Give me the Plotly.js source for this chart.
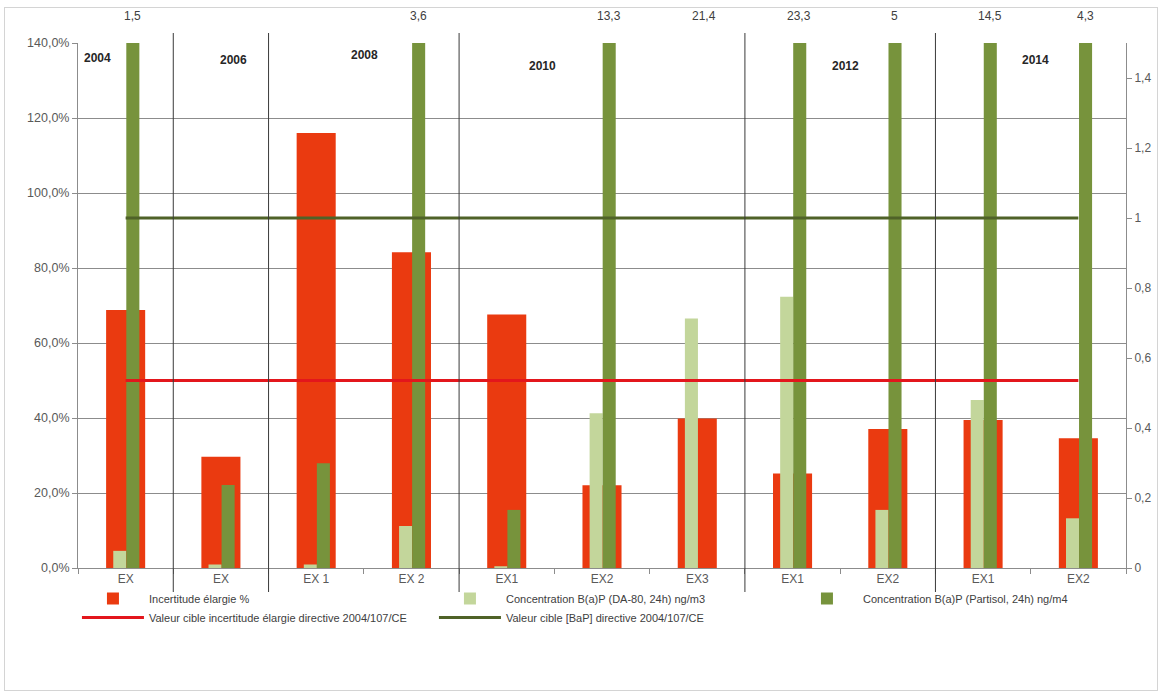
<!DOCTYPE html>
<html>
<head>
<meta charset="utf-8">
<script src="https://cdn.plot.ly/plotly-3.0.1.min.js"></script>
<style>
  html, body { margin: 0; padding: 0; background: #ffffff; }
  #wrap { position: relative; width: 1172px; height: 700px; }
  #chart { position: absolute; left: 0; top: 0; width: 1172px; height: 700px; }
  #frame { position: absolute; left: 4px; top: 7px; width: 1152px; height: 682px;
           border: 1px solid #d4d4d4; pointer-events: none; }
</style>
</head>
<body>
<div id="wrap"><div id="chart"></div><div id="frame"></div></div>
<script>
// ---- data ----
const categories = ['EX', 'EX', 'EX 1', 'EX 2', 'EX1', 'EX2', 'EX3', 'EX1', 'EX2', 'EX1', 'EX2'];
const years = ['2004', '2006', '2008', '2010', '2012', '2014'];
const incertitudeElargie = [0.688, 0.297, 1.16, 0.842, 0.676, 0.221, 0.399, 0.252, 0.371, 0.395, 0.346];
const concDA80 = [0.049, 0.01, 0.01, 0.12, 0.005, 0.442, 0.713, 0.775, 0.166, 0.48, 0.142];
const concPartisol = [1.5, 0.237, 0.299, 3.6, 0.166, 13.3, null, 23.3, 5, 14.5, 4.3];
const partisolLabels = ['1,5', '', '', '3,6', '', '13,3', '21,4', '23,3', '5', '14,5', '4,3'];
const cibleIncertitude = [0.5, 0.5, 0.5, 0.5, 0.5, 0.5, 0.5, 0.5, 0.5, 0.5, 0.5];
const cibleBaP = [1, 1, 1, 1, 1, 1, 1, 1, 1, 1, 1];
const seriesNames = [
  'Incertitude élargie %',
  'Concentration B(a)P (DA-80, 24h) ng/m3',
  'Concentration B(a)P (Partisol, 24h) ng/m4',
  'Valeur cible incertitude élargie directive 2004/107/CE',
  'Valeur cible [BaP] directive 2004/107/CE'
];

// ---- chart ----
const xIdx = categories.map((c, i) => i);
const FONT = 'Liberation Sans, Arial, sans-serif';

const traces = [
  { type: 'bar', name: seriesNames[0], x: xIdx, y: incertitudeElargie, yaxis: 'y',
    width: 0.41, offset: -0.205, marker: { color: '#ea3a10', line: { width: 0 } }, hoverinfo: 'skip' },
  { type: 'bar', name: seriesNames[1], x: xIdx, y: concDA80, yaxis: 'y2',
    width: 0.137, offset: -0.13, marker: { color: '#c3d69b', line: { width: 0 } }, hoverinfo: 'skip' },
  { type: 'bar', name: seriesNames[2], x: xIdx, y: concPartisol, yaxis: 'y2',
    width: 0.137, offset: 0.007, marker: { color: '#77933c', line: { width: 0 } }, hoverinfo: 'skip' },
  { type: 'scatter', mode: 'lines', name: seriesNames[3], x: xIdx, y: cibleIncertitude, yaxis: 'y3',
    line: { color: '#e3161c', width: 3 }, hoverinfo: 'skip' },
  { type: 'scatter', mode: 'lines', name: seriesNames[4], x: xIdx, y: cibleBaP, yaxis: 'y2',
    line: { color: '#4f6228', width: 3 }, hoverinfo: 'skip' }
];

// plot-area geometry helpers (px -> paper)
const T = 43, B = 568, H = B - T;
const py = p => (B - p) / H;

// vertical separators between year groups
const boundaries = [0.5, 1.5, 3.5, 6.5, 8.5];
const shapes = boundaries.map(b => ({
  type: 'line', xref: 'x', yref: 'paper', x0: b, x1: b, y0: py(592), y1: py(33),
  line: { color: '#3a3a3a', width: 1 }
}));

// year labels (inside plot, top)
const yearX = [-0.3, 1.13, 2.51, 4.38, 7.56, 9.55];
const yearY = [58, 60, 55, 66, 66, 60];
const annotations = years.map((yr, i) => ({
  text: '<b>' + yr + '</b>', x: yearX[i], y: py(yearY[i]), xref: 'x', yref: 'paper',
  showarrow: false, font: { family: FONT, size: 12, color: '#262626' }, xanchor: 'center', yanchor: 'middle'
}));
partisolLabels.forEach((lab, i) => {
  if (!lab) return;
  annotations.push({
    text: lab, x: i + 0.07, y: py(16), xref: 'x', yref: 'paper', showarrow: false,
    font: { family: FONT, size: 12, color: '#404040' }, xanchor: 'center', yanchor: 'middle'
  });
});

const layout = {
  width: 1172, height: 700,
  margin: { l: 78, r: 46, t: T, b: 700 - B },
  paper_bgcolor: 'rgba(0,0,0,0)', plot_bgcolor: '#ffffff',
  separators: ', ',
  barmode: 'overlay',
  font: { family: FONT, size: 12, color: '#595959' },
  showlegend: true,
  legend: {
    orientation: 'h', xref: 'paper', yref: 'paper',
    x: -0.001, xanchor: 'left', y: py(584), yanchor: 'top',
    entrywidth: 280, entrywidthmode: 'pixels', traceorder: 'normal',
    font: { family: FONT, size: 11, color: '#404040' }, itemwidth: 62,
    bgcolor: 'rgba(0,0,0,0)', tracegroupgap: 0
  },
  xaxis: {
    range: [-0.5, 10.5], tickmode: 'array', tickvals: xIdx, ticktext: categories,
    ticks: '', showgrid: false, zeroline: false, showline: true, linecolor: '#8c8c8c', linewidth: 1,
    tickfont: { family: FONT, size: 12, color: '#595959' },
    minor: { tickmode: 'linear', tick0: 0.5, dtick: 1, ticks: 'outside', ticklen: 5, tickcolor: '#8c8c8c', showgrid: false },
    fixedrange: true
  },
  yaxis: {
    range: [0, 1.4], dtick: 0.2, tick0: 0, tickformat: '.1%',
    showgrid: true, gridcolor: '#8c8c8c', gridwidth: 1, zeroline: false,
    showline: true, linecolor: '#8c8c8c', ticks: 'outside', ticklen: 5, tickcolor: '#8c8c8c',
    tickfont: { family: FONT, size: 12.5, color: '#595959' }, fixedrange: true
  },
  yaxis2: {
    range: [0, 1.5], dtick: 0.2, tick0: 0, overlaying: 'y', side: 'right',
    showgrid: false, zeroline: false, showline: true, linecolor: '#8c8c8c',
    ticks: 'outside', ticklen: 5, tickcolor: '#8c8c8c',
    tickfont: { family: FONT, size: 12, color: '#595959' }, fixedrange: true
  },
  yaxis3: {
    range: [0, 1.4], overlaying: 'y', visible: false, showgrid: false, zeroline: false, fixedrange: true
  },
  shapes: shapes,
  annotations: annotations
};

Plotly.newPlot('chart', traces, layout, { displayModeBar: false, staticPlot: true });
</script>
</body>
</html>
